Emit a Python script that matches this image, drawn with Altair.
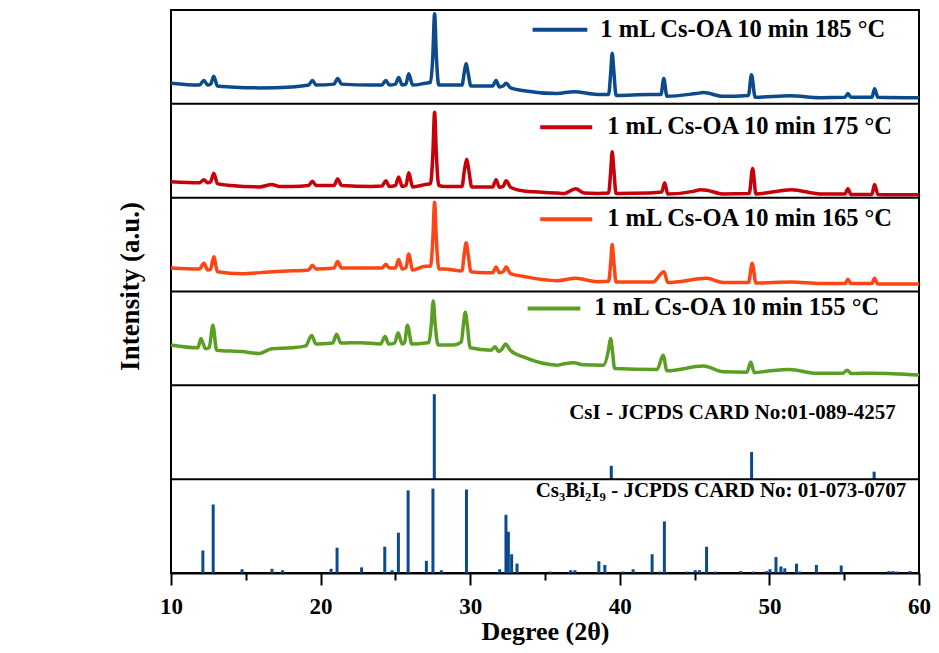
import altair as alt
import pandas as pd

# ---- XRD traces: [2theta, intensity as % of its own panel] ----
trace_185 = [(10.0,22),(11.9,20),(12.2,25),(12.45,20),(12.65,21),(12.86,29.5),(13.1,19),(14.0,18),(15.9,17),(18.1,18),
             (19.2,20),(19.45,25),(19.7,20),(20.9,21),(21.14,27),(21.4,21),(23.4,20),(24.1,20),(24.36,25),(24.6,20),
             (25.0,21),(25.22,28),(25.45,20),(25.7,21),(25.89,32),(26.15,20),(27.0,22),(27.35,23),(27.5,50),(27.62,96),
             (27.74,50),(27.9,20),(28.3,20),(29.45,20),(29.6,33),(29.73,43),(29.86,33),(30.05,19),(31.0,19),(31.5,19),
             (31.73,25),(31.95,18),(32.2,19),(32.4,22),(32.7,17),(33.6,14),(35.8,11),(36.94,13),(38.5,10),(39.25,10),
             (39.4,35),(39.49,54),(39.6,35),(39.75,9),(42.0,10),(42.75,10),(42.94,27),(43.15,8),(45.1,11),(45.6,12),
             (46.9,8),(48.6,9),(48.8,31),(49.05,7),(51.4,8.5),(53.4,6.5),(55.05,7),(55.25,11),(55.45,7),(56.85,7),
             (57.03,16),(57.25,7),(60.0,6.5)]
trace_175 = [(10.0,17),(11.9,16),(12.2,19),(12.45,16),(12.65,17),(12.86,26),(13.1,15),(14.0,13),(15.9,11.5),(16.75,14),
             (17.2,12),(18.1,12),(19.2,13),(19.45,17.5),(19.7,13),(20.9,13),(21.14,20),(21.4,13),(23.4,12),(24.1,12.5),
             (24.36,18),(24.6,12),(25.0,13),(25.22,22),(25.45,12),(25.7,13),(25.89,26.5),(26.15,11.5),(27.0,14),(27.35,15),
             (27.5,45),(27.62,91),(27.74,45),(27.9,13),(28.3,12),(29.45,12),(29.62,30),(29.77,41),(29.9,30),(30.1,11.5),
             (31.0,11.5),(31.5,11.5),(31.73,19),(31.95,11),(32.2,12),(32.4,18),(32.7,11),(33.6,7),(35.8,5),(36.3,4.5),
             (37.05,9.5),(37.6,5),(38.5,4.5),(39.25,5),(39.4,30),(39.49,49),(39.6,30),(39.75,4.5),(42.0,5),(42.8,6),
             (43.0,16),(43.2,4),(45.0,7),(45.37,8.5),(45.8,8),(46.9,4),(48.65,4.5),(48.88,31),(49.1,4),(51.48,8.5),
             (53.4,4),(55.05,4),(55.25,9.5),(55.45,3.5),(56.85,3.5),(57.03,14),(57.25,3.5),(60.0,3)]
trace_165 = [(10.0,25),(11.9,24),(12.2,30),(12.45,23),(12.65,24),(12.86,37),(13.1,21),(14.75,19),(16.75,21),(18.1,22),
             (19.2,23),(19.45,28),(19.7,24),(20.9,25),(21.14,32),(21.4,25),(23.4,25),(24.1,25),(24.36,29),(24.6,25),
             (25.0,25),(25.22,34),(25.45,24),(25.7,25),(25.89,40),(26.15,23),(27.0,27),(27.35,27),(27.5,55),(27.62,95),
             (27.74,55),(27.9,24),(28.3,24),(29.45,22),(29.6,40),(29.73,52),(29.86,40),(30.05,21),(31.0,20),(31.5,20),
             (31.73,26),(31.95,20),(32.2,21),(32.4,26),(32.7,19),(33.6,16),(35.8,11.5),(37.05,14),(38.5,10.5),(39.25,11),
             (39.4,32),(39.49,50),(39.6,32),(39.75,10),(42.2,10),(42.96,21),(43.2,9.5),(45.8,14),(46.9,9.5),(48.6,9.5),
             (48.85,30),(49.1,9),(51.48,10),(53.4,8.5),(55.05,8.5),(55.25,13),(55.45,8.5),(56.85,8.5),(57.03,14),
             (57.25,8),(60.0,8)]
trace_155 = [(10.0,43),(11.8,40),(12.0,50),(12.3,39),(12.55,40),(12.8,64),(13.05,37.5),(14.75,36),(15.86,34),(16.75,39),
             (18.08,40),(19.0,42),(19.4,53),(19.7,44),(20.8,45),(21.07,54.5),(21.35,45),(22.7,45.5),(24.0,44),(24.31,52),
             (24.55,44),(24.95,45),(25.18,56),(25.45,44),(25.62,46),(25.8,64),(26.1,44),(27.0,45),(27.25,46),(27.4,65),
             (27.53,90),(27.66,65),(27.85,43),(28.9,43),(29.4,46),(29.55,65),(29.67,78),(29.8,65),(30.0,40),(31.4,37.5),
             (31.67,41),(31.9,36),(32.15,39),(32.35,44),(32.7,37),(33.6,30),(35.83,21.5),(36.3,23),(36.94,24),(37.5,22),
             (38.9,21.5),(39.25,38),(39.38,50),(39.5,38),(39.65,18),(42.5,17),(42.9,32),(43.15,15.5),(45.6,20.5),
             (46.9,14.5),(48.5,14),(48.75,25),(49.0,13.5),(49.8,15),(51.37,17),(53.0,13),(54.9,13),(55.19,16),(55.5,12.5),
             (57.0,13),(60.0,11)]

# ---- reference cards: [2theta, relative intensity % of panel] ----
csi_card = [(27.6,90.6),(39.43,14.3),(48.81,29),(57.0,8)]
cs3bi2i9_card = [(12.13,24),(12.82,73),(14.75,4),(16.75,4.5),(17.46,3),(20.7,4.5),(21.1,27),(22.74,6),(24.29,28),
                 (24.78,3),(25.2,43),(25.85,88),(27.07,13),(27.51,90),(28.07,3),(29.75,89),(31.97,4),(32.39,62),
                 (32.55,44),(32.77,20),(33.13,10),(35.35,1.5),(36.72,3),(37.0,3),(38.6,12.5),(39.0,8.5),(40.22,1.5),
                 (40.89,4),(42.16,20),(42.67,1.5),(42.98,55),(44.5,1.5),(45.04,3),(45.33,3),(45.8,28),(46.37,1.5),
                 (48.08,2),(48.93,1.5),(49.81,2),(50.04,4),(50.44,17),(50.77,7),(51.03,5),(51.81,10),(52.03,1.5),
                 (53.14,8.5),(54.8,8),(57.98,2),(58.25,2),(58.52,1.5),(59.4,2)]

series_names = ["1 mL Cs-OA 10 min 185 °C", "1 mL Cs-OA 10 min 175 °C",
                "1 mL Cs-OA 10 min 165 °C", "1 mL Cs-OA 10 min 155 °C"]
series_colors = ["#0D4A8C", "#C8000A", "#FF4515", "#5A9E23"]
series_traces = [trace_185, trace_175, trace_165, trace_155]
panel_offsets = [500, 400, 300, 200]
csi_offset, cs3_offset = 100, 0
csi_label = "CsI - JCPDS CARD No:01-089-4257"
cs3_label = "Cs₃Bi₂I₉ - JCPDS CARD No: 01-073-0707"

# legend placement inside each panel (2theta start/end of key line, text start, height %)
legend_line_start = [34.17, 34.68, 34.68, 33.84]
legend_line_end = [37.83, 38.16, 38.16, 37.36]
legend_text_x = [38.7, 39.16, 39.16, 38.3]
legend_y = [79, 75, 77, 82]

FONT = "Liberation Serif"
W, H = 748, 563

rows = []
for name, tr, off in zip(series_names, series_traces, panel_offsets):
    for i, (t, v) in enumerate(tr):
        rows.append({"theta": t, "y": off + v, "series": name, "order": i})
lines_df = pd.DataFrame(rows)

bars_df = pd.DataFrame(
    [{"theta": t, "base": csi_offset, "top": csi_offset + v} for t, v in csi_card]
    + [{"theta": t, "base": cs3_offset, "top": cs3_offset + v} for t, v in cs3bi2i9_card]
)

key_df = pd.DataFrame([
    {"x1": a, "x2": b, "y": off + h, "series": n}
    for a, b, off, h, n in zip(legend_line_start, legend_line_end, panel_offsets, legend_y, series_names)
])
label_df = pd.DataFrame([
    {"x": tx, "y": off + h, "text": n}
    for tx, off, h, n in zip(legend_text_x, panel_offsets, legend_y, series_names)
])
card_label_df = pd.DataFrame([
    {"x": 58.45, "y": csi_offset + 70, "text": csi_label},
    {"x": 59.15, "y": cs3_offset + 87, "text": cs3_label},
])
sep_df = pd.DataFrame({"y": [100, 200, 300, 400, 500]})

xscale = alt.Scale(domain=[10, 60], nice=False, zero=False)
yscale = alt.Scale(domain=[0, 600], nice=False, zero=False)
color_scale = alt.Scale(domain=series_names, range=series_colors)

x_axis = alt.Axis(
    values=[10, 15, 20, 25, 30, 35, 40, 45, 50, 55, 60],
    labelExpr="datum.value % 10 === 0 ? datum.label : ''",
    tickSize={"condition": {"test": "datum.value % 10 === 0", "value": 12}, "value": 7},
    tickColor="black", tickWidth=2, domainColor="black", domainWidth=2, grid=False,
    labelFont=FONT, labelFontWeight="bold", labelFontSize=23, labelColor="black",
    labelPadding=10, labelFlush=False, labelOverlap=False,
    title="Degree (2θ)", titleFont=FONT, titleFontWeight="bold", titleFontSize=26,
    titleColor="black", titleY=58, titleBaseline="middle",
)
y_axis = alt.Axis(
    labels=False, ticks=False, domain=False, grid=False,
    title="Intensity (a.u.)", titleFont=FONT, titleFontWeight="bold", titleFontSize=27,
    titleColor="black", titleX=-41, titleY=276, titleBaseline="middle",
)

lines = alt.Chart(lines_df).mark_line(strokeWidth=3.5, strokeJoin="round", interpolate="monotone").encode(
    x=alt.X("theta:Q", scale=xscale, axis=x_axis),
    y=alt.Y("y:Q", scale=yscale, axis=y_axis),
    color=alt.Color("series:N", scale=color_scale, legend=None),
    order="order:Q",
)

bars = alt.Chart(bars_df).mark_rule(strokeWidth=3, color="#0B4A8C").encode(
    x=alt.X("theta:Q", scale=xscale),
    y=alt.Y("base:Q", scale=yscale),
    y2="top:Q",
)

seps = alt.Chart(sep_df).mark_rule(color="black", strokeWidth=2).encode(
    y=alt.Y("y:Q", scale=yscale),
    x=alt.value(0), x2=alt.value(W),
)

keys = alt.Chart(key_df).mark_rule(strokeWidth=4).encode(
    x=alt.X("x1:Q", scale=xscale), x2="x2:Q",
    y=alt.Y("y:Q", scale=yscale),
    color=alt.Color("series:N", scale=color_scale, legend=None),
)

labels = alt.Chart(label_df).mark_text(
    font=FONT, fontWeight="bold", fontSize=24.5, align="left", baseline="middle", color="black"
).encode(x=alt.X("x:Q", scale=xscale), y=alt.Y("y:Q", scale=yscale), text="text:N")

card_labels = alt.Chart(card_label_df).mark_text(
    font=FONT, fontWeight="bold", fontSize=21, align="right", baseline="middle", color="black"
).encode(x=alt.X("x:Q", scale=xscale), y=alt.Y("y:Q", scale=yscale), text="text:N")

chart = alt.layer(bars, lines, seps, keys, labels, card_labels).properties(
    width=W, height=H,
    padding={"left": 163, "top": 2, "right": 12, "bottom": 72},
    autosize=alt.AutoSizeParams(type="none"),
    background="white",
).configure_view(stroke="black", strokeWidth=2)

chart.save("out.html", embed_options={"renderer": "svg", "actions": False})
